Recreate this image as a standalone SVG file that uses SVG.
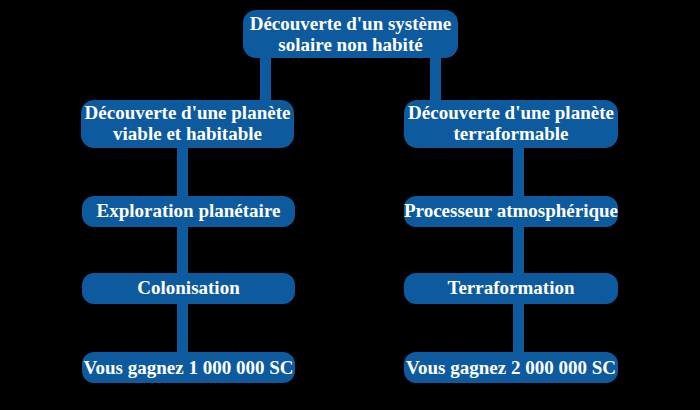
<svg xmlns="http://www.w3.org/2000/svg" width="700" height="410" viewBox="0 0 700 410">
<style>
.n{fill:#0d5a9e}
.t{font-family:"Liberation Serif","Times New Roman",serif;font-weight:bold;font-size:19px;fill:#ffffff;text-anchor:middle}
.c{fill:#0d5a9e}
</style>
<rect width="700" height="410" fill="#000000"/>
<g id="connectors">
<rect class="c" x="260" y="50" width="11" height="55"/>
<rect class="c" x="430" y="50" width="11" height="55"/>
<rect class="c" x="177" y="140" width="11" height="220"/>
<rect class="c" x="513" y="140" width="11" height="220"/>
</g>
<g id="n-root"><rect class="n" x="243" y="10" width="215" height="48" rx="13"/>
<text class="t" x="350.5" y="30">Découverte d'un système</text><text class="t" x="350.5" y="51">solaire non habité</text></g>
<g id="n-viable"><rect class="n" x="81" y="100" width="213" height="48" rx="13"/>
<text class="t" x="187.5" y="119">Découverte d'une planète</text><text class="t" x="187.5" y="140">viable et habitable</text></g>
<g id="n-terra"><rect class="n" x="404" y="100" width="214" height="48" rx="13"/>
<text class="t" x="511" y="119">Découverte d'une planète</text><text class="t" x="511" y="140">terraformable</text></g>
<g id="n-explo"><rect class="n" x="82" y="196" width="213" height="31" rx="12"/>
<text class="t" x="188.5" y="217">Exploration planétaire</text></g>
<g id="n-proc"><rect class="n" x="404" y="196" width="214" height="31" rx="12"/>
<text class="t" x="511" y="217">Processeur atmosphérique</text></g>
<g id="n-colo"><rect class="n" x="82" y="273" width="213" height="31" rx="12"/>
<text class="t" x="188.5" y="294">Colonisation</text></g>
<g id="n-terraf"><rect class="n" x="404" y="273" width="214" height="31" rx="12"/>
<text class="t" x="511" y="294">Terraformation</text></g>
<g id="n-win1"><rect class="n" x="82" y="352" width="213" height="31" rx="12"/>
<text class="t" x="188.5" y="374">Vous gagnez 1 000 000 SC</text></g>
<g id="n-win2"><rect class="n" x="404" y="352" width="214" height="31" rx="12"/>
<text class="t" x="511" y="374">Vous gagnez 2 000 000 SC</text></g>
</svg>
